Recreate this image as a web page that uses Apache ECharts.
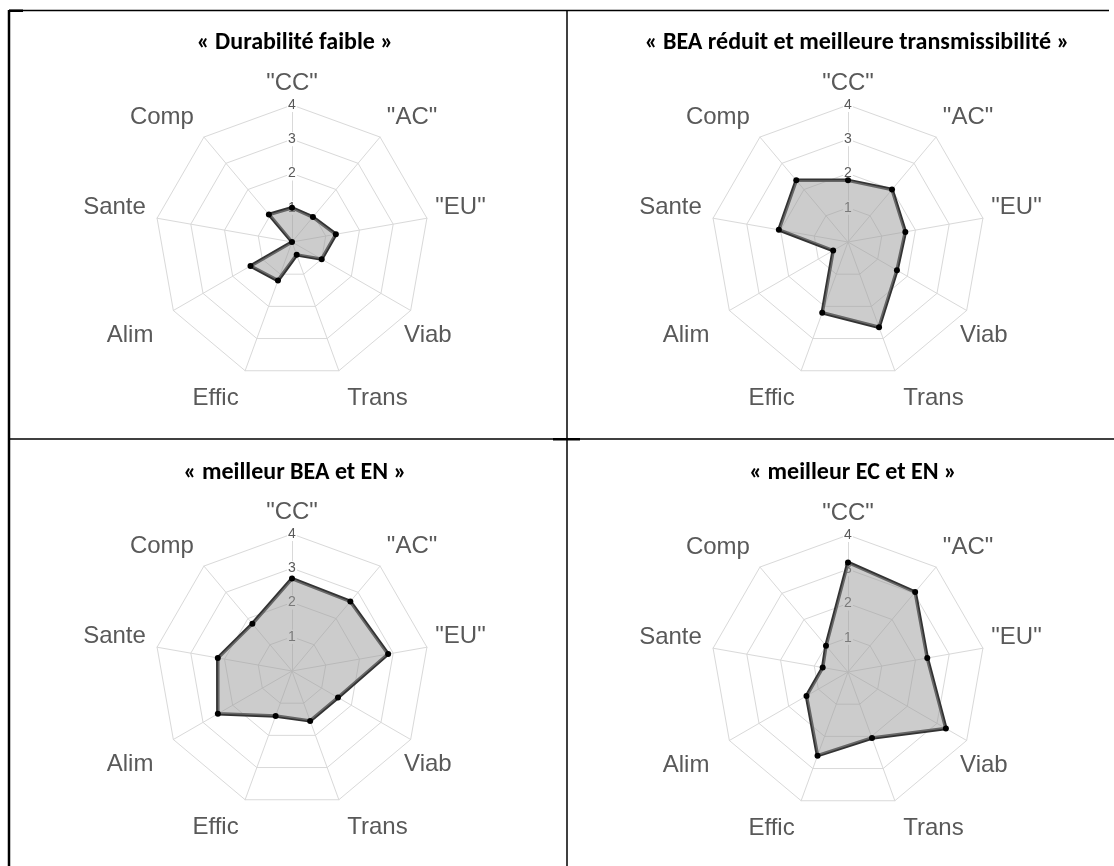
<!DOCTYPE html>
<html>
<head>
<meta charset="utf-8">
<script src="https://cdn.jsdelivr.net/npm/echarts@6/dist/echarts.min.js"></script>
<style>
html,body{margin:0;padding:0;background:#fff;}
#chart{width:1114px;height:866px;}
</style>
</head>
<body>
<div id="chart"></div>
<script>
// ---- data ----
var axisNames = ['"CC"', '"AC"', '"EU"', 'Viab', 'Trans', 'Effic', 'Alim', 'Sante', 'Comp'];
var axisMax = 4;
var tickLabels = ['1', '2', '3', '4'];
var titles = [
  '« Durabilité faible »',
  '« BEA réduit et meilleure transmissibilité »',
  '« meilleur BEA et EN »',
  '« meilleur EC et EN »'
];
var durabiliteFaible = [1.0, 0.95, 1.3, 1.0, 0.4, 1.2, 1.4, 0, 1.05];
var beaReduit = [1.8, 2.0, 1.7, 1.65, 2.65, 2.2, 0.5, 2.05, 2.35];
var meilleurBeaEn = [2.7, 2.65, 2.85, 1.55, 1.55, 1.4, 2.5, 2.2, 1.8];
var meilleurEcEn = [3.2, 3.05, 2.35, 3.3, 2.05, 2.6, 1.4, 0.75, 1.0];
var seriesValues = [durabiliteFaible, beaReduit, meilleurBeaEn, meilleurEcEn];

// ---- layout ----
var centers = [[292, 242], [848, 242], [292, 671], [848, 672]];
var titlePos = [[290, 26], [852, 26], [290, 456], [848, 456]];
var radius = 137;
// fine offsets [dx, dy] of each axis name relative to a centred placement
var nameShift = [[0, 6], [14, 2], [6, -6], [-7, 11], [29, 1], [-20, 1], [-19, 11], [-15, -6], [-24, 2]];

// ECharts radar goes counter-clockwise; reorder to go clockwise
var order = [0];
for (var i = axisNames.length - 1; i >= 1; i--) order.push(i);

var nameFont = { color: '#595959', fontSize: 24, fontFamily: 'Liberation Sans, Arial, sans-serif' };
var rich = {};
nameShift.forEach(function (s, k) {
  rich['n' + k] = Object.assign({
    padding: [Math.max(0, 2 * s[1]), Math.max(0, -2 * s[0]), Math.max(0, -2 * s[1]), Math.max(0, 2 * s[0])]
  }, nameFont);
});

function indicators() {
  return order.map(function (k, j) {
    var ind = { name: axisNames[k], max: axisMax, min: 0 };
    if (j === 0) {
      ind.axisLabel = {
        show: true,
        color: '#595959',
        fontSize: 14,
        fontFamily: 'Liberation Sans, Arial, sans-serif',
        margin: 0,
        align: 'center',
        verticalAlign: 'middle',
        backgroundColor: '#fff',
        padding: [0, 1],
        showMinLabel: false,
        formatter: function (v) {
          var idx = Math.round(v) - 1;
          return idx >= 0 && idx < tickLabels.length ? tickLabels[idx] : '';
        }
      };
    }
    return ind;
  });
}

var radars = centers.map(function (c) {
  return {
    center: c,
    radius: radius,
    shape: 'polygon',
    startAngle: 90,
    splitNumber: 4,
    indicator: indicators(),
    axisName: Object.assign({
      align: 'center',
      verticalAlign: 'middle',
      rich: rich,
      formatter: function (name) {
        return '{n' + axisNames.indexOf(name) + '|' + name + '}';
      }
    }, nameFont),
    nameGap: 28,
    axisLabel: { show: false },
    axisLine: { lineStyle: { color: '#d9d9d9', width: 1 } },
    splitLine: { lineStyle: { color: '#d9d9d9', width: 1 } },
    splitArea: { show: false },
    axisTick: { show: false }
  };
});

var series = seriesValues.map(function (vals, i) {
  return {
    type: 'radar',
    radarIndex: i,
    symbol: 'circle',
    symbolSize: 6,
    z: 3,
    itemStyle: { color: '#000' },
    lineStyle: { color: '#333', width: 3.5 },
    areaStyle: { color: '#999', opacity: 0.5 },
    data: [{ value: order.map(function (k) { return vals[k]; }) }]
  };
});

var titleComps = titles.map(function (t, i) {
  return {
    text: t,
    left: titlePos[i][0],
    top: titlePos[i][1],
    textAlign: 'center',
    textStyle: {
      fontSize: 24,
      fontWeight: 'bold',
      color: '#000',
      fontFamily: 'Carlito, Lato, "Open Sans", sans-serif'
    }
  };
});

var borderStyle = { stroke: '#000', lineWidth: 1.5 };
var graphics = [
  { type: 'line', shape: { x1: 9, y1: 10, x2: 9, y2: 866 }, style: { stroke: '#000', lineWidth: 2.5 } },
  { type: 'line', shape: { x1: 9, y1: 10.5, x2: 1109, y2: 10.5 }, style: borderStyle },
  { type: 'line', shape: { x1: 567, y1: 10, x2: 567, y2: 866 }, style: borderStyle },
  { type: 'line', shape: { x1: 9, y1: 439, x2: 1114, y2: 439 }, style: borderStyle },
  { type: 'rect', shape: { x: 553, y: 438, width: 27, height: 2.5 }, style: { fill: '#000' } },
  { type: 'rect', shape: { x: 9, y: 9.5, width: 14, height: 2.5 }, style: { fill: '#000' } }
];

var chart = echarts.init(document.getElementById('chart'));
chart.setOption({
  backgroundColor: '#fff',
  animation: false,
  title: titleComps,
  radar: radars,
  series: series,
  graphic: graphics
});
</script>
</body>
</html>
